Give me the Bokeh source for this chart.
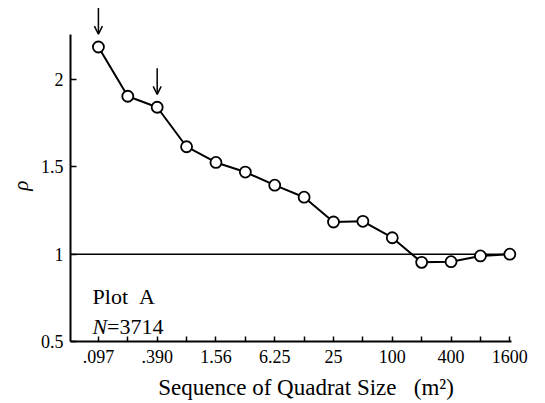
from bokeh.plotting import figure
from bokeh.models import Range1d, FixedTicker, Arrow, OpenHead, Label
from bokeh.embed import file_html
from bokeh.resources import INLINE

# ---- data ----
quadrat_sizes = [".097", ".195", ".390", ".781", "1.56", "3.13", "6.25", "12.5",
                 "25", "50", "100", "200", "400", "800", "1600"]
tick_labels = [".097", ".390", "1.56", "6.25", "25", "100", "400", "1600"]
rho = [2.186, 1.904, 1.841, 1.615, 1.525, 1.470, 1.395, 1.326,
       1.184, 1.188, 1.094, 0.953, 0.957, 0.990, 1.000]
arrow_points = [0, 2]
y_ticks = [0.5, 1, 1.5, 2]
y_tick_labels = ["0.5", "1", "1.5", "2"]
reference_rho = 1

FONT = "Liberation Serif"
x = list(range(len(quadrat_sizes)))
x_lo, x_hi = -0.95, 14.05   # extent of the drawn x axis

p = figure(width=540, height=402, output_backend="svg", toolbar_location=None,
           x_range=Range1d(x_lo, 14.5), y_range=Range1d(0.5, 2.435),
           min_border_left=70, min_border_right=16, min_border_top=3,
           min_border_bottom=61)
p.grid.visible = False
p.outline_line_color = None

# x axis
xa = p.xaxis[0]
xa.ticker = FixedTicker(ticks=x)
xa.bounds = (x_lo, x_hi)
xa.major_label_overrides = {i: (s if s in tick_labels else "") for i, s in zip(x, quadrat_sizes)}
xa.major_tick_in = 5
xa.major_tick_out = 0
xa.minor_tick_in = 0
xa.minor_tick_out = 0
xa.axis_line_width = 2
xa.major_tick_line_width = 1.5
xa.major_label_standoff = 8
xa.major_label_text_font = FONT
xa.major_label_text_font_size = "18px"
xa.major_label_text_color = "black"
xa.axis_label = "\u00a0" * 3 + "Sequence of Quadrat Size\u00a0\u00a0\u00a0(m\u00b2)"
xa.axis_label_text_font = FONT
xa.axis_label_text_font_size = "23px"
xa.axis_label_text_font_style = "normal"
xa.axis_label_text_color = "black"
xa.axis_label_standoff = 9

# y axis
ya = p.yaxis[0]
ya.ticker = FixedTicker(ticks=y_ticks)
ya.major_label_overrides = dict(zip(y_ticks, y_tick_labels))
ya.bounds = (0.5, 2.26)
ya.major_tick_in = 6
ya.major_tick_out = 0
ya.minor_tick_in = 0
ya.minor_tick_out = 0
ya.axis_line_width = 2
ya.major_tick_line_width = 1.5
ya.major_label_standoff = 7
ya.major_label_text_font = FONT
ya.major_label_text_font_size = "18px"
ya.major_label_text_color = "black"
ya.axis_label = "\u03c1" + "\u00a0" * 5
ya.axis_label_text_font = FONT
ya.axis_label_text_font_size = "21px"
ya.axis_label_text_font_style = "italic"
ya.axis_label_text_color = "black"
ya.axis_label_standoff = 5

# reference line at rho = 1 (across the drawn axis)
p.line([x_lo, x_hi], [reference_rho, reference_rho], line_color="black", line_width=1.5)

# data line + markers
p.line(x, rho, line_color="black", line_width=2)
p.scatter(x, rho, size=11, fill_color="white", line_color="black", line_width=1.8)

# arrows above selected points
for i in arrow_points:
    p.add_layout(Arrow(end=OpenHead(size=8, line_width=1.5, line_color="black"),
                       x_start=x[i], y_start=rho[i] + 0.223,
                       x_end=x[i], y_end=rho[i] + 0.074,
                       line_width=1.5, line_color="black"))

# annotations
p.add_layout(Label(x=-0.2, y=0.758, text="Plot\u00a0\u00a0A", text_font=FONT,
                   text_font_size="22px", text_baseline="alphabetic", text_color="black"))
p.add_layout(Label(x=-0.2, y=0.586, text="N", text_font=FONT, text_font_style="italic",
                   text_font_size="22px", text_baseline="alphabetic", text_color="black"))
p.add_layout(Label(x=-0.2, y=0.586, x_offset=14.5, text="=3714", text_font=FONT,
                   text_font_size="22px", text_baseline="alphabetic", text_color="black"))

open("out.html", "w").write(file_html(p, INLINE))
